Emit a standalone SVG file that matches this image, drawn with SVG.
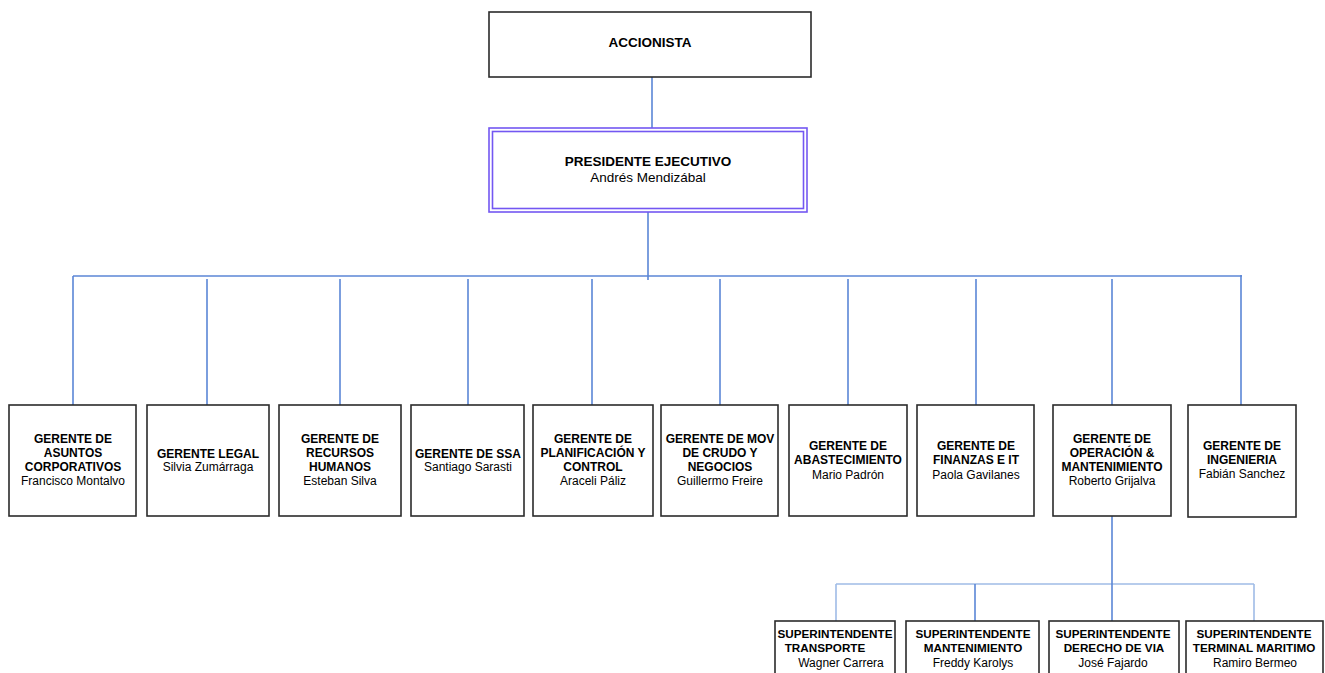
<svg xmlns="http://www.w3.org/2000/svg" width="1325" height="673" viewBox="0 0 1325 673">
  <style>
    .box { fill: #ffffff; stroke: #2b2b2b; stroke-width: 1.6; }
    .pres { fill: none; stroke: #7357f2; stroke-width: 1.6; }
    .link { fill: none; stroke: #5b86d6; stroke-width: 1.6; }
    .link-lt { fill: none; stroke: #9fbbe6; stroke-width: 1.6; }
    .t { font-family: "Liberation Sans", Arial, sans-serif; font-size: 12px; fill: #000; text-anchor: middle; }
    .b { font-weight: bold; }
    .top { font-size: 13.5px; }
    .sup { font-size: 11.7px; }
  </style>

  <!-- connectors -->
  <g id="connectors">
    <line class="link" x1="652" y1="77" x2="652" y2="128"/>
    <line class="link" x1="648" y1="212" x2="648" y2="280"/>
    <line class="link" x1="73" y1="276" x2="1242" y2="276"/>
    <line class="link" x1="73" y1="276" x2="73" y2="405"/>
    <line class="link" x1="207" y1="279" x2="207" y2="405"/>
    <line class="link" x1="340" y1="279" x2="340" y2="405"/>
    <line class="link" x1="468" y1="279" x2="468" y2="405"/>
    <line class="link" x1="592" y1="279" x2="592" y2="405"/>
    <line class="link" x1="720" y1="279" x2="720" y2="405"/>
    <line class="link" x1="848" y1="279" x2="848" y2="405"/>
    <line class="link" x1="976" y1="279" x2="976" y2="405"/>
    <line class="link" x1="1112" y1="279" x2="1112" y2="405"/>
    <line class="link" x1="1241" y1="275" x2="1241" y2="405"/>
    <!-- operations branch -->
    <line class="link-lt" x1="836" y1="584" x2="1254" y2="584"/>
    <line class="link-lt" x1="836" y1="584" x2="836" y2="621"/>
    <line class="link" x1="975" y1="584" x2="975" y2="621"/>
    <line class="link" x1="1112" y1="516" x2="1112" y2="621"/>
    <line class="link-lt" x1="1254" y1="584" x2="1254" y2="621"/>
  </g>

  <g id="accionista">
    <rect class="box" x="489" y="12" width="322" height="65"/>
    <text class="t b top" x="650" y="47">ACCIONISTA</text>
  </g>

  <g id="presidente">
    <rect x="489" y="128" width="318" height="84" fill="#ffffff"/>
    <rect class="pres" x="489" y="128" width="318" height="84"/>
    <rect class="pres" x="492.5" y="131.5" width="311" height="77"/>
    <text class="t b top" x="648" y="166">PRESIDENTE EJECUTIVO</text>
    <text class="t top" x="648" y="182">Andrés Mendizábal</text>
  </g>

  <g id="g-asuntos">
    <rect class="box" x="9" y="405" width="127" height="111"/>
    <text class="t b" x="73" y="442.5">GERENTE DE</text>
    <text class="t b" x="73" y="456.5">ASUNTOS</text>
    <text class="t b" x="73" y="470.5">CORPORATIVOS</text>
    <text class="t" x="73" y="485">Francisco Montalvo</text>
  </g>

  <g id="g-legal">
    <rect class="box" x="147" y="405" width="122" height="111"/>
    <text class="t b" x="208" y="457.5">GERENTE LEGAL</text>
    <text class="t" x="208" y="471">Silvia Zumárraga</text>
  </g>

  <g id="g-rrhh">
    <rect class="box" x="279" y="405" width="122" height="111"/>
    <text class="t b" x="340" y="442.5">GERENTE DE</text>
    <text class="t b" x="340" y="456.5">RECURSOS</text>
    <text class="t b" x="340" y="470.5">HUMANOS</text>
    <text class="t" x="340" y="485">Esteban Silva</text>
  </g>

  <g id="g-ssa">
    <rect class="box" x="411" y="405" width="113" height="111"/>
    <text class="t b" x="468" y="457.5">GERENTE DE SSA</text>
    <text class="t" x="468" y="471">Santiago Sarasti</text>
  </g>

  <g id="g-planificacion">
    <rect class="box" x="533" y="405" width="120" height="111"/>
    <text class="t b" x="593" y="442.5">GERENTE DE</text>
    <text class="t b" x="593" y="456.5">PLANIFICACIÓN Y</text>
    <text class="t b" x="593" y="470.5">CONTROL</text>
    <text class="t" x="593" y="485">Araceli Páliz</text>
  </g>

  <g id="g-crudo">
    <rect class="box" x="661" y="405" width="117" height="111"/>
    <text class="t b" x="720" y="442.5">GERENTE DE MOV</text>
    <text class="t b" x="720" y="456.5">DE CRUDO Y</text>
    <text class="t b" x="720" y="470.5">NEGOCIOS</text>
    <text class="t" x="720" y="485">Guillermo Freire</text>
  </g>

  <g id="g-abastecimiento">
    <rect class="box" x="789" y="405" width="118" height="111"/>
    <text class="t b" x="848" y="450">GERENTE DE</text>
    <text class="t b" x="848" y="464">ABASTECIMIENTO</text>
    <text class="t" x="848" y="479">Mario Padrón</text>
  </g>

  <g id="g-finanzas">
    <rect class="box" x="917" y="405" width="117" height="111"/>
    <text class="t b" x="976" y="450">GERENTE DE</text>
    <text class="t b" x="976" y="464">FINANZAS E IT</text>
    <text class="t" x="976" y="479">Paola Gavilanes</text>
  </g>

  <g id="g-operacion">
    <rect class="box" x="1053" y="405" width="118" height="111"/>
    <text class="t b" x="1112" y="442.5">GERENTE DE</text>
    <text class="t b" x="1112" y="456.5">OPERACIÓN &amp;</text>
    <text class="t b" x="1112" y="470.5">MANTENIMIENTO</text>
    <text class="t" x="1112" y="485">Roberto Grijalva</text>
  </g>

  <g id="g-ingenieria">
    <rect class="box" x="1188" y="405" width="108" height="112"/>
    <text class="t b" x="1242" y="449.5">GERENTE DE</text>
    <text class="t b" x="1242" y="463.5">INGENIERIA</text>
    <text class="t" x="1242" y="478">Fabián Sanchez</text>
  </g>

  <g id="s-transporte">
    <rect class="box" x="775" y="621" width="120" height="60"/>
    <text class="t b sup" x="835" y="638">SUPERINTENDENTE</text>
    <text class="t b sup" x="825" y="652">TRANSPORTE</text>
    <text class="t" x="841" y="667">Wagner Carrera</text>
  </g>

  <g id="s-mantenimiento">
    <rect class="box" x="906" y="621" width="133" height="60"/>
    <text class="t b sup" x="973" y="638">SUPERINTENDENTE</text>
    <text class="t b sup" x="973" y="652">MANTENIMIENTO</text>
    <text class="t" x="973" y="667">Freddy Karolys</text>
  </g>

  <g id="s-derecho-via">
    <rect class="box" x="1049" y="621" width="130" height="60"/>
    <text class="t b sup" x="1113" y="638">SUPERINTENDENTE</text>
    <text class="t b sup" x="1114" y="652">DERECHO DE VIA</text>
    <text class="t" x="1113" y="667">José Fajardo</text>
  </g>

  <g id="s-terminal">
    <rect class="box" x="1186" y="621" width="137" height="60"/>
    <text class="t b sup" x="1254" y="638">SUPERINTENDENTE</text>
    <text class="t b sup" x="1254" y="652">TERMINAL MARITIMO</text>
    <text class="t" x="1255" y="667">Ramiro Bermeo</text>
  </g>
</svg>
